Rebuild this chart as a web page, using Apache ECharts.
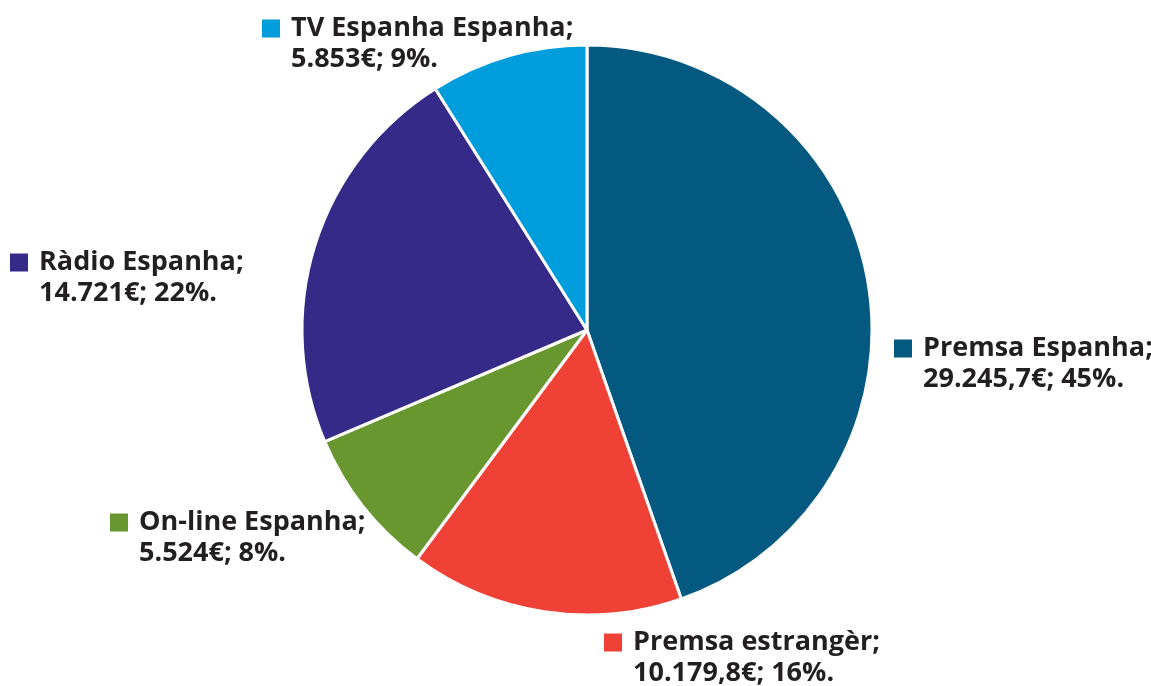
<!DOCTYPE html>
<html>
<head>
<meta charset="utf-8">
<script src="https://cdn.jsdelivr.net/npm/echarts@6/dist/echarts.min.js"></script>
<style>
html,body{margin:0;padding:0;background:#fff;}
#c{width:1151px;height:686px;}
</style>
</head>
<body>
<div id="c"></div>
<script>
const categories = ['Premsa Espanha', 'Premsa estrangèr', 'On-line Espanha', 'Ràdio Espanha', 'TV Espanha Espanha'];
const values = [29245.7, 10179.8, 5524, 14721, 5853];
const colors = ['#03597f', '#ef4136', '#67972e', '#352a87', '#009ddc'];

// label anchor (left edge of square, top of block)
const labelPos = [[894, 333], [604, 627], [110, 507], [10, 247], [262, 13]];

function fmt(v) {
  const isInt = Math.round(v) === v;
  const parts = (isInt ? v.toFixed(0) : v.toFixed(1)).split('.');
  parts[0] = parts[0].replace(/\B(?=(\d{3})+(?!\d))/g, '.');
  return parts.join(',');
}

const chart = echarts.init(document.getElementById('c'));
const FONT = '"Open Sans", sans-serif';
chart.setOption({
  backgroundColor: '#ffffff',
  animation: false,
  series: [{
    type: 'pie',
    center: [587, 330],
    radius: [0, 285],
    startAngle: 90,
    clockwise: true,
    data: categories.map((n, i) => ({ name: n, value: values[i], itemStyle: { color: colors[i] } })),
    itemStyle: { borderColor: '#ffffff', borderWidth: 3 },
    labelLine: { show: false },
    label: {
      show: true,
      position: 'outside',
      overflow: 'none',
      formatter: function (p) {
        return '{sq' + p.dataIndex + '|}{sp|}{t|' + p.name + ';}\n{sp2|}{t|' + fmt(p.value) + '€; ' + Math.round(p.percent) + '%.}';
      },
      rich: Object.assign({
        sp: { width: 11 },
        sp2: { width: 29 },
        t: { fontFamily: FONT, fontWeight: 'bold', fontSize: 27, color: '#231f20', lineHeight: 31 }
      }, ...colors.map((c, i) => ({ ['sq' + i]: { width: 18, height: 18, backgroundColor: c } })))
    },
    labelLayout: function (params) {
      const p = labelPos[params.dataIndex];
      return { x: p[0], y: p[1], align: 'left', verticalAlign: 'top', moveOverlap: false, hideOverlap: false };
    }
  }]
});
</script>
</body>
</html>
